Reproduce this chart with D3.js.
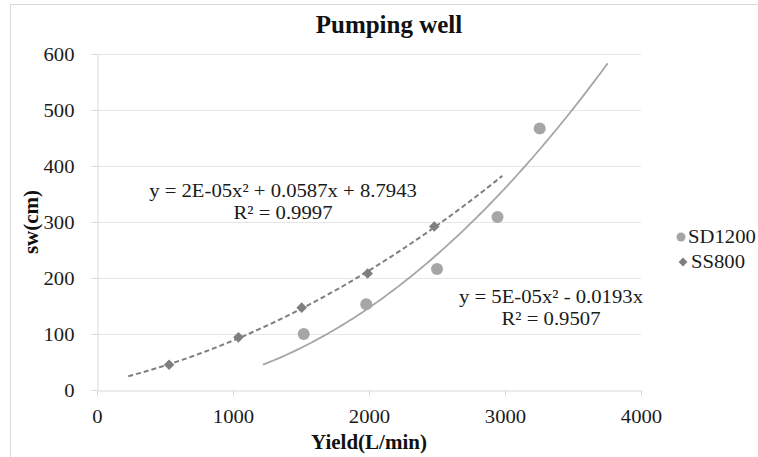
<!DOCTYPE html>
<html>
<head>
<meta charset="utf-8">
<script src="https://cdn.jsdelivr.net/npm/d3@7"></script>
<style>
  body { margin: 0; background: #fff; }
  svg { display: block; }
  text { font-family: "Liberation Serif", "DejaVu Serif", serif; }
</style>
</head>
<body>
<svg id="chart" width="758" height="457"></svg>
<script>
// data
const seriesNames = ["SD1200", "SS800"];
const sdYield = [1520, 1980, 2500, 2945, 3255];
const sdSw    = [100, 153, 216, 309, 467];
const ssYield = [530, 1040, 1505, 1990, 2480];
const ssSw    = [45, 94, 147, 208, 292];
const xTicks = [0, 1000, 2000, 3000, 4000];
const yTicks = [0, 100, 200, 300, 400, 500, 600];
const sdEquation = ["y = 5E-05x\u00B2 - 0.0193x", "R\u00B2 = 0.9507"];
const ssEquation = ["y = 2E-05x\u00B2 + 0.0587x + 8.7943", "R\u00B2 = 0.9997"];
// trendline forecast (backward / forward) in L/min
const trendBackward = 300;
const trendForward = 500;

const FONT = "'Liberation Serif', 'DejaVu Serif', serif";
const svgEl = document.getElementById("chart");
const svg = d3.select(svgEl).attr("font-family", FONT);
const SX = 1.09; // text in the picture looks a bit wide

const x = d3.scaleLinear().domain([0, 4000]).range([97, 641]);
const y = d3.scaleLinear().domain([0, 600]).range([390, 54]);

// least squares polynomial fit (like the spreadsheet trendline)
function polyfit(xs, ys, degree, withIntercept) {
  const powers = [];
  for (let p = withIntercept ? 0 : 1; p <= degree; p++) powers.push(p);
  const n = powers.length;
  const A = powers.map(pi => powers.map(pj => d3.sum(xs, v => Math.pow(v, pi + pj))));
  const b = powers.map(pi => d3.sum(xs, (v, i) => Math.pow(v, pi) * ys[i]));
  // gaussian elimination
  for (let i = 0; i < n; i++) {
    for (let k = i + 1; k < n; k++) {
      const f = A[k][i] / A[i][i];
      for (let j = i; j < n; j++) A[k][j] -= f * A[i][j];
      b[k] -= f * b[i];
    }
  }
  const c = new Array(n).fill(0);
  for (let i = n - 1; i >= 0; i--) {
    let s = b[i];
    for (let j = i + 1; j < n; j++) s -= A[i][j] * c[j];
    c[i] = s / A[i][i];
  }
  return v => d3.sum(powers, (p, i) => c[i] * Math.pow(v, p));
}

function trendPoints(xs, ys, withIntercept) {
  const f = polyfit(xs, ys, 2, withIntercept);
  const x0 = d3.min(xs) - trendBackward, x1 = d3.max(xs) + trendForward;
  return d3.range(0, 101).map(i => {
    const v = x0 + (x1 - x0) * i / 100;
    return [v, f(v)];
  });
}

// outer frame
svg.append("rect")
  .attr("x", 10.5).attr("y", 4.5)
  .attr("width", 780).attr("height", 480)
  .attr("fill", "none").attr("stroke", "#d9d9d9");

// gridlines
svg.append("g")
  .selectAll("line")
  .data(yTicks.slice(1))
  .enter()
  .append("line")
  .attr("x1", x(0)).attr("x2", x(4000))
  .attr("y1", d => Math.round(y(d)) + 0.5)
  .attr("y2", d => Math.round(y(d)) + 0.5)
  .attr("stroke", "#e6e6e6");

// axes
const xAxis = svg.append("g")
  .attr("transform", `translate(0,${Math.round(y(0)) + 0.5})`)
  .call(d3.axisBottom(x).tickValues(xTicks).tickFormat(d3.format("d"))
    .tickSize(6).tickSizeOuter(0).tickPadding(13));
const yAxis = svg.append("g")
  .attr("transform", `translate(${Math.round(x(0)) + 0.5},0)`)
  .call(d3.axisLeft(y).tickValues(yTicks).tickFormat(d3.format("d"))
    .tickSize(6).tickSizeOuter(0).tickPadding(17));

[xAxis, yAxis].forEach(ax => {
  ax.attr("font-family", FONT).attr("font-size", 19);
  ax.select(".domain").attr("stroke", "#d9d9d9");
  ax.selectAll(".tick line").attr("stroke", "#d9d9d9");
  ax.selectAll(".tick text").attr("fill", "#1a1a1a");
});
yAxis.selectAll(".tick line").attr("x2", -6);
xAxis.selectAll(".tick text").attr("transform", `scale(${SX},1)`);
yAxis.selectAll(".tick text")
  .attr("dy", "0.34em")
  .attr("x", -23 / SX)
  .attr("transform", `scale(${SX},1)`);

// trendlines
const line = d3.line().x(d => x(d[0])).y(d => y(d[1]));

svg.append("path")
  .datum(trendPoints(sdYield, sdSw, false))
  .attr("d", line)
  .attr("fill", "none")
  .attr("stroke", "#a6a6a6")
  .attr("stroke-width", 1.8);

svg.append("path")
  .datum(trendPoints(ssYield, ssSw, true))
  .attr("d", line)
  .attr("fill", "none")
  .attr("stroke", "#7f7f7f")
  .attr("stroke-width", 2)
  .attr("stroke-dasharray", "5,3");

// points
const sdData = sdYield.map((v, i) => ({ x: v, y: sdSw[i] }));
const ssData = ssYield.map((v, i) => ({ x: v, y: ssSw[i] }));

svg.append("g")
  .selectAll("circle")
  .data(sdData)
  .enter()
  .append("circle")
  .attr("cx", d => x(d.x))
  .attr("cy", d => y(d.y))
  .attr("r", 6)
  .attr("fill", "#a6a6a6");

const diamond = d3.symbol().type(d3.symbolDiamond2).size(72);
svg.append("g")
  .selectAll("path")
  .data(ssData)
  .enter()
  .append("path")
  .attr("d", diamond)
  .attr("transform", d => `translate(${x(d.x)},${y(d.y)})`)
  .attr("fill", "#7f7f7f");

// stretched text helper
function addText(tx, ty, str, size, anchor) {
  return svg.append("text")
    .attr("transform", `translate(${tx},${ty}) scale(${SX},1)`)
    .attr("text-anchor", anchor)
    .attr("font-family", FONT)
    .attr("font-size", size)
    .attr("fill", "#1a1a1a")
    .text(str);
}

// equations
ssEquation.forEach((s, i) => addText(283, 197 + i * 22, s, 19, "middle"));
sdEquation.forEach((s, i) => addText(551, 303 + i * 22, s, 19, "middle"));

// title and axis titles
svg.append("text")
  .attr("x", 389).attr("y", 33)
  .attr("text-anchor", "middle")
  .attr("font-family", FONT)
  .attr("font-size", 25)
  .attr("font-weight", "bold")
  .attr("fill", "#111")
  .text("Pumping well");

svg.append("text")
  .attr("x", 369).attr("y", 449)
  .attr("text-anchor", "middle")
  .attr("font-family", FONT)
  .attr("font-size", 21)
  .attr("font-weight", "bold")
  .attr("fill", "#111")
  .text("Yield(L/min)");

svg.append("text")
  .attr("transform", "translate(38,222) rotate(-90)")
  .attr("text-anchor", "middle")
  .attr("font-family", FONT)
  .attr("font-size", 21)
  .attr("font-weight", "bold")
  .attr("fill", "#111")
  .text("sw(cm)");

// legend
const legend = svg.append("g");
legend.append("circle")
  .attr("cx", 681).attr("cy", 237).attr("r", 4.5)
  .attr("fill", "#a6a6a6");
legend.append("path")
  .attr("d", d3.symbol().type(d3.symbolDiamond2).size(50))
  .attr("transform", "translate(683,262)")
  .attr("fill", "#7f7f7f");
seriesNames.forEach((s, i) => {
  addText(i === 0 ? 688 : 691, 243 + i * 25, s, 19, "start");
});
</script>
</body>
</html>
